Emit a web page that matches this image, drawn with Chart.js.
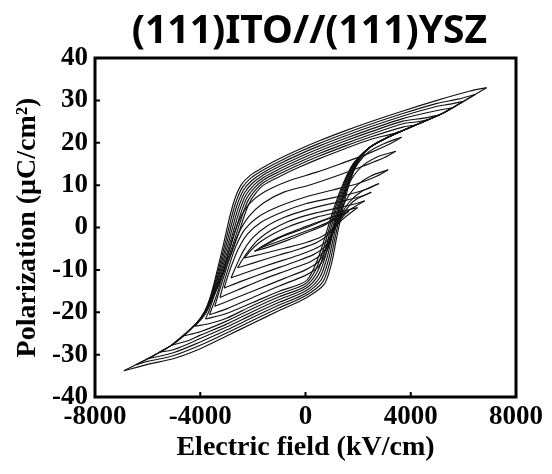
<!DOCTYPE html>
<html>
<head>
<meta charset="utf-8">
<script src="https://cdn.jsdelivr.net/npm/chart.js@4.4.1/dist/chart.umd.min.js"></script>
<style>
  html, body { margin: 0; padding: 0; background: #fff; }
  #wrap { width: 552px; height: 474px; }
</style>
</head>
<body>
<div id="wrap"><canvas id="myChart" width="552" height="474"></canvas></div>
<script>
// P-E hysteresis loops: [E (kV/cm), P (uC/cm2)]
// each loop = upper branch (field going down) + lower branch (field going up)
const chartTitle = "(111)ITO//(111)YSZ";
const xTicks = [-8000, -4000, 0, 4000, 8000];
const yTicks = [-40, -30, -20, -10, 0, 10, 20, 30, 40];

// big loops
const b1Upper = [[6880,33.0],[6250,32.2],[5000,30.0],[3700,27.5],[2440,24.9],[1500,22.8],[500,20.4],[-250,18.4],[-1000,16.2],[-1600,14.2],[-2100,12.3],[-2450,10.0],[-2700,6.5],[-2900,2.0],[-3100,-3.5],[-3350,-10.0],[-3600,-16.0],[-3850,-20.0],[-4200,-23.0],[-5000,-27.4],[-6000,-31.0],[-6900,-33.8]];
const b1Lower = [[-6900,-33.8],[-6000,-32.3],[-5000,-30.9],[-4000,-28.6],[-3000,-25.6],[-2000,-22.6],[-1000,-19.6],[0,-16.7],[700,-13.5],[980,-8.7],[1180,-2.5],[1400,4.0],[1650,10.0],[1950,15.0],[2400,18.7],[3000,20.9],[3700,22.9],[5200,26.9],[6200,30.5],[6880,33.0]];

const b2Upper = [[6450,31.4],[5800,30.3],[5000,29.3],[3700,26.9],[2440,24.3],[1500,22.2],[500,19.8],[-250,17.8],[-1000,15.6],[-1600,13.6],[-2070,11.7],[-2405,9.4],[-2650,5.9],[-2850,1.5],[-3055,-3.8],[-3315,-10.1],[-3580,-16.0],[-3842,-20.0],[-4200,-23.0],[-5000,-27.4],[-6000,-31.0],[-6450,-32.4]];
const b2Lower = [[-6450,-32.4],[-6000,-31.6],[-5000,-30.2],[-4000,-27.8],[-3000,-24.9],[-2000,-21.9],[-1000,-18.95],[0,-16.1],[645,-12.95],[925,-8.2],[1130,-2.2],[1355,4.1],[1615,10.0],[1930,15.0],[2400,18.7],[3000,20.9],[3700,22.9],[5200,26.9],[5800,29.0],[6450,31.4]];

const b3Upper = [[6000,29.8],[5500,29.1],[5000,28.6],[3700,26.3],[2440,23.7],[1500,21.6],[500,19.2],[-250,17.2],[-1000,15.0],[-1600,13.0],[-2040,11.1],[-2360,8.8],[-2600,5.3],[-2800,1.0],[-3010,-4.1],[-3280,-10.2],[-3560,-16.0],[-3834,-20.0],[-4200,-23.0],[-5000,-27.4],[-6000,-31.0]];
const b3Lower = [[-6000,-31.0],[-5000,-29.5],[-4000,-27.0],[-3000,-24.2],[-2000,-21.2],[-1000,-18.3],[0,-15.55],[590,-12.4],[870,-7.7],[1080,-1.9],[1310,4.2],[1580,10.0],[1910,15.0],[2400,18.7],[3000,20.9],[3700,22.9],[5200,26.9],[6000,29.8]];

const b4Upper = [[5550,28.2],[5000,27.6],[3700,25.7],[2440,23.1],[1500,21.0],[500,18.6],[-250,16.6],[-1000,14.4],[-1600,12.4],[-2010,10.5],[-2315,8.2],[-2550,4.7],[-2750,0.5],[-2965,-4.4],[-3245,-10.3],[-3540,-16.0],[-3826,-20.0],[-4200,-23.0],[-5000,-27.4],[-5550,-29.4]];
const b4Lower = [[-5550,-29.4],[-5000,-28.8],[-4000,-26.2],[-3000,-23.5],[-2000,-20.5],[-1000,-17.65],[0,-15.0],[535,-11.85],[815,-7.2],[1030,-1.6],[1265,4.3],[1545,10.0],[1890,15.0],[2400,18.7],[3000,20.9],[3700,22.9],[5200,26.9],[5550,28.2]];

const b5Upper = [[5100,26.6],[4500,25.8],[3700,25.1],[2440,22.5],[1500,20.4],[500,18.0],[-250,16.0],[-1000,13.8],[-1600,11.8],[-1980,9.9],[-2270,7.6],[-2500,4.1],[-2700,0.0],[-2920,-4.7],[-3210,-10.4],[-3520,-16.0],[-3818,-20.0],[-4200,-23.0],[-5100,-27.8]];
const b5Lower = [[-5100,-27.8],[-4500,-26.8],[-4000,-25.4],[-3000,-22.8],[-2000,-19.8],[-1000,-17.0],[0,-14.42],[480,-11.3],[760,-6.7],[980,-1.3],[1220,4.4],[1510,10.0],[1870,15.0],[2400,18.7],[3000,20.9],[3700,22.9],[5100,26.6]];

const b6Upper = [[4650,25.4],[4200,24.9],[3700,24.5],[2440,21.9],[1500,19.8],[500,17.4],[-250,15.4],[-1000,13.2],[-1600,11.2],[-1950,9.3],[-2225,7.0],[-2450,3.5],[-2650,-0.5],[-2875,-5.0],[-3175,-10.5],[-3500,-16.0],[-3810,-20.0],[-4200,-23.0],[-4650,-25.6]];
const b6Lower = [[-4650,-25.6],[-4000,-24.6],[-3000,-22.1],[-2000,-19.1],[-1000,-16.35],[0,-13.85],[425,-10.75],[705,-6.2],[930,-1.0],[1175,4.5],[1475,10.0],[1850,15.0],[2400,18.7],[3000,20.9],[3700,22.9],[4650,25.4]];

const b7Upper = [[4200,24.2],[3700,23.7],[2440,21.3],[1500,19.2],[500,16.8],[-250,14.8],[-1000,12.6],[-1600,10.6],[-1920,8.7],[-2180,6.4],[-2400,2.9],[-2600,-1.0],[-2830,-5.3],[-3140,-10.6],[-3480,-16.0],[-3802,-20.4],[-4200,-23.3]];
const b7Lower = [[-4200,-23.3],[-3600,-22.6],[-3000,-21.4],[-2000,-18.4],[-1000,-15.7],[0,-13.28],[370,-10.2],[650,-5.7],[880,-0.7],[1130,4.6],[1440,10.0],[1830,15.0],[2400,18.7],[3000,20.9],[4200,24.2]];

const b8Upper = [[3750,23.0],[3300,22.1],[2440,20.7],[1500,18.6],[500,16.2],[-250,14.2],[-1000,12.0],[-1600,10.0],[-1890,8.1],[-2135,5.8],[-2350,2.3],[-2550,-1.5],[-2785,-5.6],[-3105,-10.7],[-3460,-16.0],[-3650,-19.4],[-3800,-21.6]];
const b8Lower = [[-3800,-21.6],[-3000,-20.3],[-2000,-17.7],[-1000,-15.05],[0,-12.71],[315,-9.65],[595,-5.2],[830,-0.4],[1085,4.7],[1405,10.0],[1810,15.0],[2400,18.7],[3000,20.9],[3750,23.0]];

// small loops
const s0Upper = [[3650,21.3],[3200,19.7],[2400,17.5],[1400,15.2],[400,13.0],[-600,11.1],[-1500,8.6],[-2100,5.8],[-2500,2.0],[-2800,-3.2],[-3100,-10.0],[-3350,-15.5],[-3650,-20.6]];
const s0Lower = [[-3650,-20.6],[-3000,-19.2],[-2000,-16.5],[-1000,-13.8],[0,-11.3],[500,-9.2],[850,-5.0],[1100,0.5],[1350,6.0],[1650,11.0],[2000,15.2],[2400,17.8],[3000,19.8],[3650,21.3]];

const s1Upper = [[3430,18.0],[3000,16.5],[2200,14.5],[1200,12.2],[200,10.1],[-800,8.4],[-1600,5.8],[-2150,2.6],[-2550,-1.5],[-2850,-6.5],[-3100,-11.5],[-3300,-15.5],[-3450,-18.6]];
const s1Lower = [[-3450,-18.6],[-2800,-17.0],[-1800,-14.5],[-800,-12.0],[0,-10.0],[500,-8.0],[850,-4.2],[1100,0.8],[1350,5.8],[1650,10.4],[2100,14.2],[2700,16.6],[3430,18.0]];

const s2Upper = [[3140,13.6],[2700,12.1],[2000,10.4],[1000,8.8],[0,7.2],[-1000,5.0],[-1800,2.5],[-2300,-0.4],[-2650,-4.5],[-2900,-9.0],[-3100,-13.0],[-3250,-16.5]];
const s2Lower = [[-3250,-16.5],[-2600,-14.8],[-1600,-12.2],[-600,-9.9],[200,-8.0],[650,-6.0],[950,-2.6],[1200,1.8],[1500,6.0],[1900,9.6],[2500,12.2],[3140,13.6]];

const s3Upper = [[2790,10.4],[2400,9.2],[1700,7.9],[800,6.7],[0,5.6],[-900,3.6],[-1700,1.2],[-2200,-1.5],[-2550,-5.0],[-2800,-8.8],[-2980,-12.0],[-3090,-14.3]];
const s3Lower = [[-3090,-14.3],[-2400,-12.6],[-1400,-10.3],[-500,-8.3],[300,-6.4],[750,-4.4],[1050,-1.2],[1300,2.4],[1650,5.9],[2100,8.4],[2790,10.4]];

const s4Upper = [[2500,8.3],[2100,7.3],[1400,6.2],[600,5.1],[0,4.1],[-800,2.4],[-1500,0.2],[-2000,-2.4],[-2350,-5.4],[-2600,-8.6],[-2830,-11.9]];
const s4Lower = [[-2830,-11.9],[-2200,-10.5],[-1200,-8.4],[-300,-6.6],[400,-4.9],[850,-2.9],[1150,0.2],[1450,3.4],[1850,6.3],[2500,8.3]];

const s5Upper = [[2250,6.3],[1900,5.6],[1200,4.6],[500,3.6],[0,2.8],[-700,1.3],[-1300,-0.6],[-1800,-2.9],[-2150,-5.4],[-2400,-7.6],[-2580,-9.5]];
const s5Lower = [[-2580,-9.5],[-2000,-8.4],[-1000,-6.5],[-200,-5.0],[450,-3.5],[900,-1.5],[1250,1.3],[1650,4.0],[2250,6.3]];

const s6Upper = [[1980,4.7],[1600,4.1],[1000,3.3],[400,2.4],[0,1.6],[-600,0.3],[-1200,-1.4],[-1700,-3.3],[-2050,-5.2],[-2320,-7.2]];
const s6Lower = [[-2320,-7.2],[-1700,-6.3],[-800,-4.9],[0,-3.6],[600,-2.2],[1000,-0.5],[1400,1.9],[1980,4.7]];

const s7Upper = [[1650,3.8],[1200,2.9],[600,1.6],[0,0.2],[-700,-1.5],[-1300,-3.2],[-1940,-5.6]];
const s7Lower = [[-1940,-5.6],[-1300,-4.4],[-600,-2.8],[0,-1.3],[600,0.2],[1200,2.2],[1650,3.8]];

const s8Upper = [[1450,3.4],[600,1.4],[0,-0.1],[-900,-2.2],[-1750,-4.9]];
const s8Lower = [[-1750,-4.9],[-900,-3.0],[0,-0.9],[700,0.8],[1450,3.4]];

const branches = [
  b1Upper, b1Lower, b2Upper, b2Lower, b3Upper, b3Lower, b4Upper, b4Lower,
  b5Upper, b5Lower, b6Upper, b6Lower, b7Upper, b7Lower, b8Upper, b8Lower,
  s0Upper, s0Lower, s1Upper, s1Lower, s2Upper, s2Lower, s3Upper, s3Lower,
  s4Upper, s4Lower, s5Upper, s5Lower, s6Upper, s6Lower, s7Upper, s7Lower,
  s8Upper, s8Lower
];

const serif = "'Liberation Serif', 'Times New Roman', serif";

// thick frame, short inward ticks on left and bottom, title over the plot box
const frame = {
  id: "frame",
  afterDraw(chart) {
    const { ctx, chartArea: a, scales } = chart;
    ctx.save();
    ctx.strokeStyle = "#000";
    ctx.lineWidth = 2;
    ctx.beginPath();
    xTicks.forEach((v) => {
      const px = scales.x.getPixelForValue(v);
      ctx.moveTo(px, a.bottom);
      ctx.lineTo(px, a.bottom - 5);
    });
    yTicks.forEach((v) => {
      const py = scales.y.getPixelForValue(v);
      ctx.moveTo(a.left, py);
      ctx.lineTo(a.left + 5, py);
    });
    ctx.stroke();
    ctx.lineWidth = 3;
    ctx.strokeRect(a.left, a.top, a.right - a.left, a.bottom - a.top);

    ctx.fillStyle = "#000";
    ctx.font = "bold 39px 'Noto Sans', sans-serif";
    ctx.textAlign = "center";
    ctx.textBaseline = "alphabetic";
    ctx.fillText(chartTitle, (a.left + a.right) / 2 + 4, 43);
    ctx.restore();
  },
};

const ctx = document.getElementById("myChart");

new Chart(ctx, {
  type: "scatter",
  data: {
    datasets: branches.map((b) => ({
      data: b.map((p) => ({ x: p[0], y: p[1] })),
      showLine: true,
      borderColor: "#111",
      borderWidth: 1.15,
      pointRadius: 0,
      tension: 0.3,
      fill: false,
    })),
  },
  options: {
    responsive: false,
    animation: false,
    events: [],
    layout: { padding: { top: 58, right: 36, left: 0, bottom: 0 } },
    plugins: {
      legend: { display: false },
      tooltip: { enabled: false },
      title: { display: false },
    },
    scales: {
      x: {
        type: "linear",
        min: -8000,
        max: 8000,
        afterBuildTicks: (s) => { s.ticks = xTicks.map((v) => ({ value: v })); },
        afterFit: (s) => { s.height = 77; },
        grid: { display: false, drawTicks: false },
        border: { display: false },
        ticks: {
          color: "#000",
          padding: 4,
          font: { family: serif, size: 27, weight: "bold" },
          callback: (v) => String(v),
        },
        title: {
          display: true,
          text: "Electric field (kV/cm)",
          color: "#000",
          padding: { top: 0, bottom: 9 },
          font: { family: serif, size: 28, weight: "bold", lineHeight: 1.2 },
        },
      },
      y: {
        type: "linear",
        min: -40,
        max: 40,
        afterBuildTicks: (s) => { s.ticks = yTicks.map((v) => ({ value: v })); },
        afterFit: (s) => { s.width = 95; },
        grid: { display: false, drawTicks: false },
        border: { display: false },
        ticks: {
          color: "#000",
          padding: 7,
          font: { family: serif, size: 27, weight: "bold" },
          callback: (v) => String(v),
        },
        title: {
          display: true,
          text: "Polarization (μC/cm²)",
          color: "#000",
          padding: { top: 11, bottom: 0 },
          font: { family: serif, size: 28, weight: "bold", lineHeight: 1.2 },
        },
      },
    },
  },
  plugins: [frame],
});
</script>
</body>
</html>
